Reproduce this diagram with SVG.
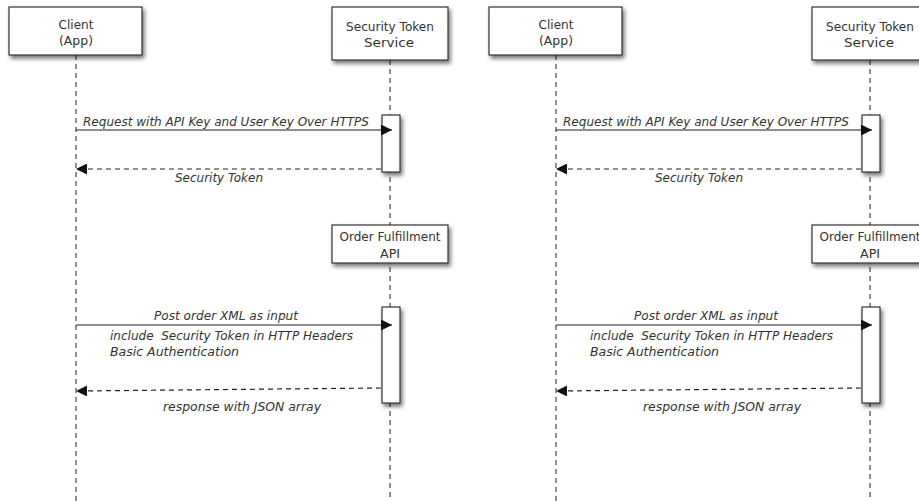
<svg xmlns="http://www.w3.org/2000/svg" width="919" height="501" viewBox="0 0 919 501">
<defs>
<filter id="sh" x="-20%" y="-20%" width="150%" height="160%">
<feDropShadow dx="2" dy="3" stdDeviation="2" flood-color="#000" flood-opacity="0.55"/>
</filter>
<marker id="ah" viewBox="0 0 10 10" refX="10" refY="5" markerWidth="13" markerHeight="11" markerUnits="userSpaceOnUse" orient="auto">
<path d="M0,0 L10,5 L0,10 z" fill="#111"/>
</marker>
<style>
.box{fill:#fff;stroke:#333;stroke-width:1.2;filter:url(#sh)}
.life{stroke:#444;stroke-width:1.2;stroke-dasharray:5 4;fill:none}
.msg{stroke:#222;stroke-width:1.2;fill:none;marker-end:url(#ah)}
.ret{stroke:#222;stroke-width:1.2;fill:none;stroke-dasharray:5 4;marker-end:url(#ah)}
.hd{font-family:"DejaVu Sans","Liberation Sans",sans-serif;font-size:13px;fill:#333;text-anchor:middle}
.lb{font-family:"DejaVu Sans","Liberation Sans",sans-serif;font-size:12px;font-style:italic;fill:#333}
</style>
</defs>
<rect width="919" height="501" fill="#fff"/>

<!-- LEFT PANEL -->
<g id="panel-left">
<g id="lifelines-left" class="connectors">
<line class="life" x1="76" y1="55" x2="76" y2="501"/>
<line class="life" x1="390" y1="60" x2="390" y2="501"/>
</g>
<g id="client-left">
<rect class="box" x="9" y="7" width="133" height="48"/>
<text class="hd" x="76" y="29" textLength="35" lengthAdjust="spacingAndGlyphs">Client</text>
<text class="hd" x="76" y="45" textLength="34" lengthAdjust="spacingAndGlyphs">(App)</text>
</g>
<g id="sts-left">
<rect class="box" x="332" y="7" width="116" height="53"/>
<text class="hd" x="390" y="31" textLength="88" lengthAdjust="spacingAndGlyphs">Security Token</text>
<text class="hd" x="389" y="47" textLength="50" lengthAdjust="spacingAndGlyphs">Service</text>
</g>
<g id="sts-activation-left">
<rect class="box" x="382" y="115" width="18" height="57"/>
</g>
<g id="ofa-left">
<rect class="box" x="332" y="225" width="116" height="38"/>
<text class="hd" x="390" y="241" textLength="101" lengthAdjust="spacingAndGlyphs">Order Fulfillment</text>
<text class="hd" x="390" y="258" textLength="20" lengthAdjust="spacingAndGlyphs">API</text>
</g>
<g id="ofa-activation-left">
<rect class="box" x="382" y="307" width="18" height="96"/>
</g>
<g id="connectors-left">
<line class="msg" x1="76" y1="130" x2="392" y2="130"/>
<line class="ret" x1="381" y1="169" x2="76" y2="169"/>
<line class="msg" x1="76" y1="325" x2="392" y2="325"/>
<line class="ret" x1="381" y1="388" x2="76" y2="391"/>
<text class="lb" x="83" y="126" textLength="286" lengthAdjust="spacingAndGlyphs">Request with API Key and User Key Over HTTPS</text>
<text class="lb" x="175" y="182" textLength="88" lengthAdjust="spacingAndGlyphs">Security Token</text>
<text class="lb" x="154" y="320" textLength="144" lengthAdjust="spacingAndGlyphs">Post order XML as input</text>
<text class="lb" x="110" y="340" textLength="243" lengthAdjust="spacingAndGlyphs" xml:space="preserve">include  Security Token in HTTP Headers</text>
<text class="lb" x="110" y="356" textLength="129" lengthAdjust="spacingAndGlyphs">Basic Authentication</text>
<text class="lb" x="163" y="411" textLength="158" lengthAdjust="spacingAndGlyphs">response with JSON array</text>
</g>
</g>

<!-- RIGHT PANEL -->
<g id="panel-right" transform="translate(480,0)">
<g id="lifelines-right" class="connectors">
<line class="life" x1="76" y1="55" x2="76" y2="501"/>
<line class="life" x1="390" y1="60" x2="390" y2="501"/>
</g>
<g id="client-right">
<rect class="box" x="9" y="7" width="133" height="48"/>
<text class="hd" x="76" y="29" textLength="35" lengthAdjust="spacingAndGlyphs">Client</text>
<text class="hd" x="76" y="45" textLength="34" lengthAdjust="spacingAndGlyphs">(App)</text>
</g>
<g id="sts-right">
<rect class="box" x="332" y="7" width="116" height="53"/>
<text class="hd" x="390" y="31" textLength="88" lengthAdjust="spacingAndGlyphs">Security Token</text>
<text class="hd" x="389" y="47" textLength="50" lengthAdjust="spacingAndGlyphs">Service</text>
</g>
<g id="sts-activation-right">
<rect class="box" x="382" y="115" width="18" height="57"/>
</g>
<g id="ofa-right">
<rect class="box" x="332" y="225" width="116" height="38"/>
<text class="hd" x="390" y="241" textLength="101" lengthAdjust="spacingAndGlyphs">Order Fulfillment</text>
<text class="hd" x="390" y="258" textLength="20" lengthAdjust="spacingAndGlyphs">API</text>
</g>
<g id="ofa-activation-right">
<rect class="box" x="382" y="307" width="18" height="96"/>
</g>
<g id="connectors-right">
<line class="msg" x1="76" y1="130" x2="392" y2="130"/>
<line class="ret" x1="381" y1="169" x2="76" y2="169"/>
<line class="msg" x1="76" y1="325" x2="392" y2="325"/>
<line class="ret" x1="381" y1="388" x2="76" y2="391"/>
<text class="lb" x="83" y="126" textLength="286" lengthAdjust="spacingAndGlyphs">Request with API Key and User Key Over HTTPS</text>
<text class="lb" x="175" y="182" textLength="88" lengthAdjust="spacingAndGlyphs">Security Token</text>
<text class="lb" x="154" y="320" textLength="144" lengthAdjust="spacingAndGlyphs">Post order XML as input</text>
<text class="lb" x="110" y="340" textLength="243" lengthAdjust="spacingAndGlyphs" xml:space="preserve">include  Security Token in HTTP Headers</text>
<text class="lb" x="110" y="356" textLength="129" lengthAdjust="spacingAndGlyphs">Basic Authentication</text>
<text class="lb" x="163" y="411" textLength="158" lengthAdjust="spacingAndGlyphs">response with JSON array</text>
</g>
</g>
</svg>
